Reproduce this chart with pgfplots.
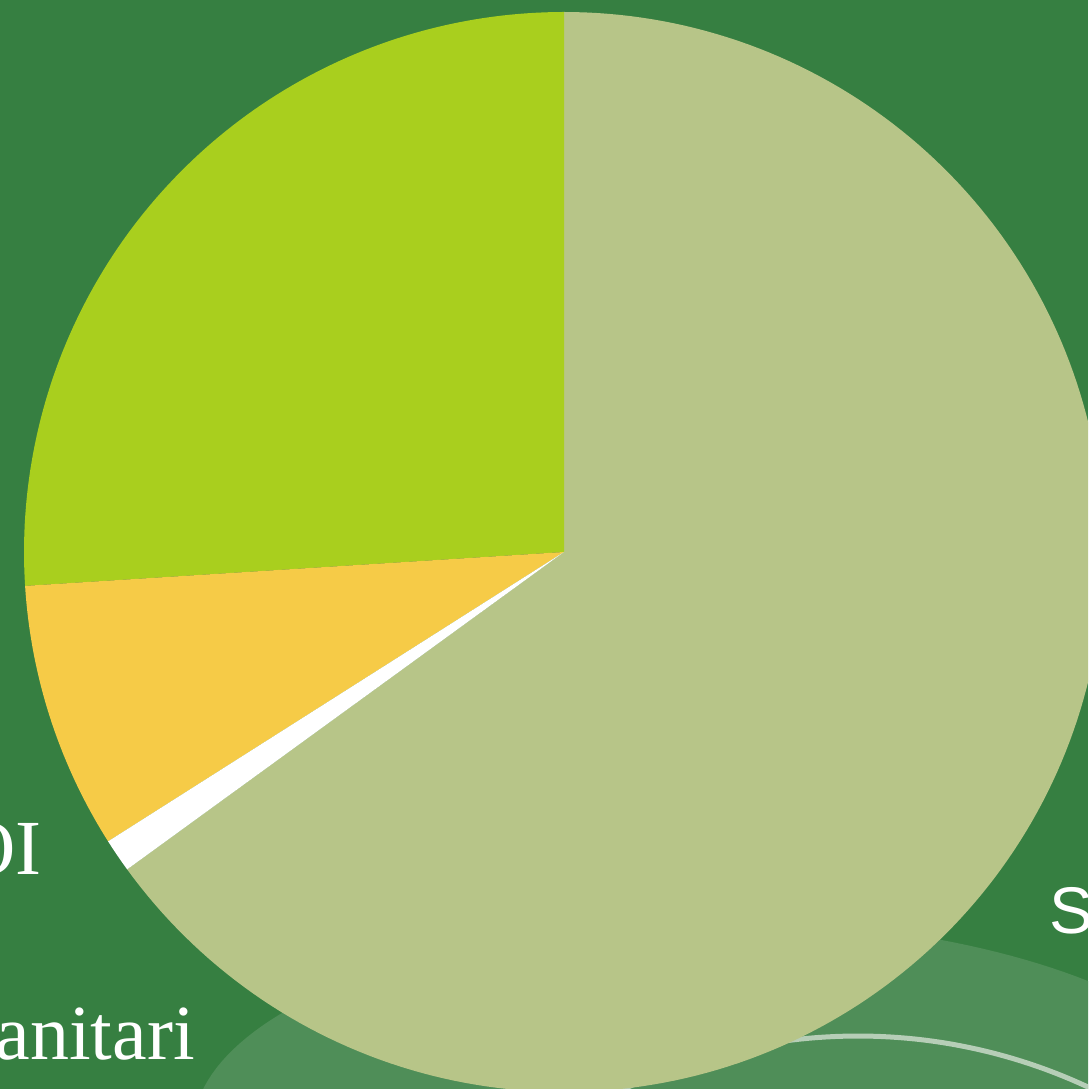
\documentclass[border=0pt]{standalone}
\usepackage{pgfplots}
\pgfplotsset{compat=1.18}
\usepackage{pgfplotstable}
\usepackage{fontspec}
\setmainfont{Liberation Serif}
\newfontfamily\sansf{Liberation Sans}
\definecolor{bg}{HTML}{367F41}
\definecolor{bglight}{HTML}{4F8E58}
\definecolor{arcline}{HTML}{B6CEB7}
\definecolor{cA}{HTML}{A9CF1E}
\definecolor{cB}{HTML}{F6CB47}
\definecolor{cC}{HTML}{FFFFFF}
\definecolor{cD}{HTML}{B7C588}
\pgfplotstableread{
slice value
A 26
B 8
C 1
D 65
}\piedata
\begin{document}
\begin{tikzpicture}
\pgfplotstablegetelem{0}{value}\of\piedata \let\vA\pgfplotsretval
\pgfplotstablegetelem{1}{value}\of\piedata \let\vB\pgfplotsretval
\pgfplotstablegetelem{2}{value}\of\piedata \let\vC\pgfplotsretval
\pgfplotstablegetelem{3}{value}\of\piedata \let\vD\pgfplotsretval
\pgfmathsetmacro\sA{90}
\pgfmathsetmacro\eA{\sA+3.6*\vA}
\pgfmathsetmacro\eB{\eA+3.6*\vB}
\pgfmathsetmacro\eC{\eB+3.6*\vC}
\pgfmathsetmacro\eD{\eC+3.6*\vD}
\begin{axis}[
  scale only axis, width=1088pt, height=1089pt,
  xmin=0, xmax=1088, ymin=0, ymax=1089,
  axis lines=none, clip=true]
\coordinate (sw) at (axis cs:0,0);
\coordinate (ne) at (axis cs:1088,1089);
% background
\addplot[fill=bg, draw=none] coordinates {(0,0) (1088,0) (1088,1089) (0,1089)} -- cycle;
% lighter background shape
\addplot[fill=bglight, draw=none, domain=0:360, samples=200, variable=\t]
  ({718+525*cos(\t)},{-41+210*sin(\t)}) -- cycle;
% thin arc
\addplot[draw=arcline, line width=5pt, domain=20:160, samples=150, variable=\t]
  ({858+544*cos(\t)},{-491+544*sin(\t)});
% labels
\node[anchor=base east, inner sep=0pt, text=white, font=\fontsize{78}{90}\selectfont] at (axis cs:42,214) {OI};
\node[anchor=base east, inner sep=0pt, text=white, font=\fontsize{78}{90}\selectfont] at (axis cs:195,29) {Sanitari};
\node[anchor=base west, inner sep=0pt, text=white, font=\sansf\fontsize{66}{80}\selectfont] at (axis cs:1049,155) {S};
% pie
\addplot[fill=cD, draw=none, domain=\eC:\eD, samples=200, variable=\t]
  ({564+540*cos(\t)},{537+540*sin(\t)}) -- (axis cs:564,537) -- cycle;
\addplot[fill=cA, draw=none, domain=\sA:\eA, samples=100, variable=\t]
  ({564+540*cos(\t)},{537+540*sin(\t)}) -- (axis cs:564,537) -- cycle;
\addplot[fill=cB, draw=none, domain=\eA:\eB, samples=40, variable=\t]
  ({564+540*cos(\t)},{537+540*sin(\t)}) -- (axis cs:564,537) -- cycle;
\addplot[fill=cC, draw=none, domain=\eB:\eC, samples=10, variable=\t]
  ({564+540*cos(\t)},{537+540*sin(\t)}) -- (axis cs:564,537) -- cycle;
\end{axis}
\pgfresetboundingbox
\path[use as bounding box] (sw) rectangle (ne);
\end{tikzpicture}
\end{document}
